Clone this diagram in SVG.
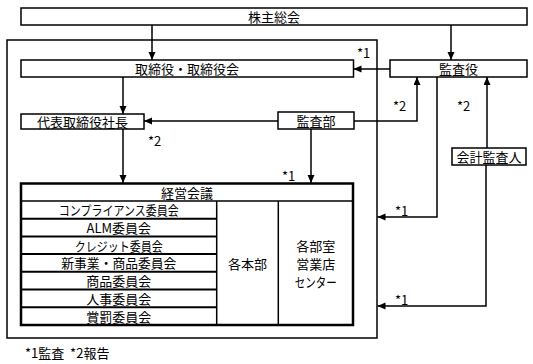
<svg xmlns="http://www.w3.org/2000/svg" width="533" height="364" viewBox="0 0 533 364">
<style>
text{font-family:"Noto Sans CJK JP","Noto Sans",sans-serif;font-size:13px;fill:#000;text-anchor:middle;dominant-baseline:central}
.lbl{text-anchor:start}
.box{fill:#fff;stroke:#000;stroke-width:1.5}
.ln{fill:none;stroke:#000;stroke-width:1.5}
.th{fill:none;stroke:#000;stroke-width:2}
.con path{fill:none;stroke:#000;stroke-width:1.5;marker-end:url(#ah)}
</style>
<defs>
<marker id="ah" markerUnits="userSpaceOnUse" markerWidth="9" markerHeight="8" refX="8" refY="3.5" orient="auto">
<path d="M0,0 L8,3.5 L0,7 z" fill="#000"/>
</marker>
</defs>
<rect width="533" height="364" fill="#fff"/>
<g id="outer"><rect class="box" x="7" y="40" width="370" height="298"/></g>
<g id="kabunushi"><rect class="box" x="21" y="8" width="506" height="17"/><text x="274" y="16.5">株主総会</text></g>
<g id="torishimariyaku"><rect class="box" x="21" y="60" width="332.5" height="17"/><text x="187" y="68.5">取締役・取締役会</text></g>
<g id="kansayaku"><rect class="box" x="390" y="60" width="137" height="17"/><text x="458.5" y="68.5">監査役</text></g>
<g id="shacho"><rect class="box" x="21" y="114" width="123" height="15"/><text x="82.5" y="121.5">代表取締役社長</text></g>
<g id="kansabu"><rect class="box" x="278" y="112" width="76" height="17"/><text x="316" y="120.5">監査部</text></g>
<g id="kaikei"><rect class="box" x="452" y="148" width="74" height="17"/><text x="489" y="156.5">会計監査人</text></g>
<g id="keiei">
<rect x="21" y="183.5" width="332" height="141.5" fill="#fff" stroke="none"/>
<path class="ln" d="M21,201 H353 M216.7,201 V325 M278.3,201 V325"/>
<path class="th" d="M21,218.7 H216.7 M21,236.4 H216.7 M21,254.1 H216.7 M21,271.8 H216.7 M21,289.5 H216.7 M21,307.2 H216.7"/>
<rect x="21" y="183.5" width="332" height="141.5" fill="none" stroke="#000" stroke-width="2.5"/>
<text x="187" y="192">経営会議</text>
<text x="118.8" y="209.8" textLength="120" lengthAdjust="spacingAndGlyphs">コンプライアンス委員会</text>
<text x="118.8" y="227.5">ALM委員会</text>
<text x="118.8" y="245.2" textLength="88" lengthAdjust="spacingAndGlyphs">クレジット委員会</text>
<text x="118.8" y="262.9" textLength="115" lengthAdjust="spacingAndGlyphs">新事業・商品委員会</text>
<text x="118.8" y="280.6">商品委員会</text>
<text x="118.8" y="298.3">人事委員会</text>
<text x="118.8" y="316">賞罰委員会</text>
<text x="247.5" y="263">各本部</text>
<text x="315.7" y="245">各部室</text>
<text x="315.7" y="263.3">営業店</text>
<text x="315.7" y="281.7" textLength="42" lengthAdjust="spacingAndGlyphs">センター</text>
</g>
<g id="connectors" class="con">
<path d="M152,25 V60"/>
<path d="M451,25 V60"/>
<path d="M390,69 H353.5"/>
<path d="M123,77 V114"/>
<path d="M278,121 H144"/>
<path d="M354,121 H417 V77"/>
<path d="M311,129 V183"/>
<path d="M123,129 V183"/>
<path d="M437,77 V217 H377.5"/>
<path d="M487,148 V77"/>
<path d="M486,165 V306 H377.5"/>
</g>
<g id="labels">
<text class="lbl" x="357" y="52">*1</text>
<text class="lbl" x="393" y="105">*2</text>
<text class="lbl" x="457" y="105">*2</text>
<text class="lbl" x="148" y="140">*2</text>
<text class="lbl" x="282" y="175">*1</text>
<text class="lbl" x="395" y="210">*1</text>
<text class="lbl" x="395" y="299">*1</text>
<text class="lbl" x="25" y="352" xml:space="preserve">*1監査  *2報告</text>
</g>
</svg>
